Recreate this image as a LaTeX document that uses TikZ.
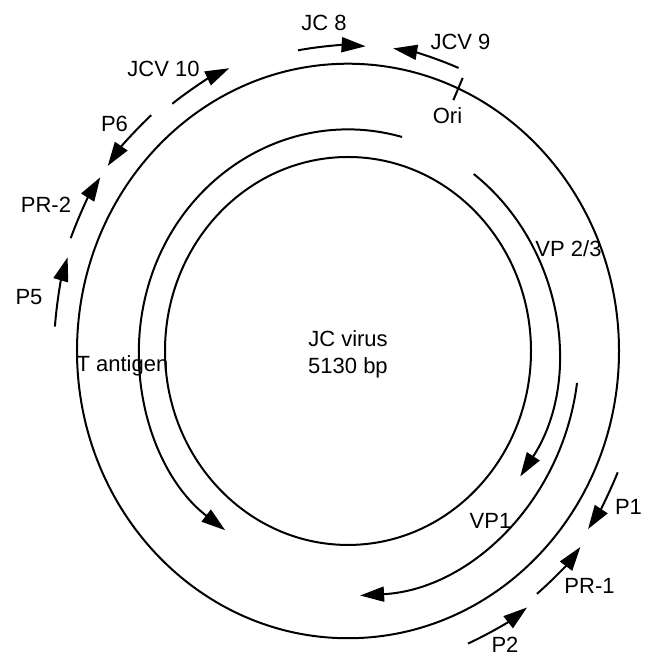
\documentclass[tikz,border=0pt]{standalone}
\usepackage{fontspec}
\setmainfont{Liberation Sans}
\usepackage{tikz}
\usetikzlibrary{
  arrows.meta,positioning,calc
}

\begin{document}
\begin{tikzpicture}[x=0.5pt,y=0.53pt,
    ring/.style={line width=1pt},
    gene/.style={line width=1pt,-{Triangle[length=12pt,width=7.5pt]}},
    lbl/.style={anchor=base,inner sep=0pt,font=\fontsize{11}{13.5}\selectfont}]
    \useasboundingbox (-348,-288.7) rectangle (300,331.1);
    % genome rings
    \draw[ring] (0,0) circle[radius=271];
    \draw[ring] (0,0) circle[radius=183];
    \draw[ring] ($(0,0) + (66:259)$) -- ($(0,0) + (66:282)$);
    \node[lbl] (ori) at (99.5,214.2) {Ori};
    \node[lbl] (name) at (0,3.8) {JC virus};
    \node[lbl] (size) at (0,-21.7) {5130 bp};
    % early and late genes
    \draw[gene] (75:209) arc[start angle=75,end angle=234,radius=209];
    \node[lbl] (tag) at (-225.5,-19.8) {T antigen};
    \draw[gene] (53:209) arc[start angle=53,end angle=-34.5,radius=209];
    \node[lbl] (vp23) at (220.5,88.7) {VP 2/3};
    \draw[gene] (-7.5:231) arc[start angle=-7.5,end angle=-87,radius=231];
    \node[lbl] (vp1) at (142.5,-167.9) {VP1};
    % primers
    \draw[gene] (100:288) arc[start angle=100,end angle=86.5,radius=288];
    \node[lbl] (jc8) at (-24,302.8) {JC 8};
    \draw[gene] (67.5:289) arc[start angle=67.5,end angle=81,radius=289];
    \node[lbl] (jcv9) at (112.5,284) {JCV 9};
    \draw[gene] (127:292) arc[start angle=127,end angle=114,radius=292];
    \node[lbl] (jcv10) at (-184.5,259.4) {JCV 10};
    \draw[gene] (131.5:297) arc[start angle=131.5,end angle=144,radius=297];
    \node[lbl] (p6) at (-233.5,206.6) {P6};
    \draw[gene] (159:297) arc[start angle=159,end angle=146.5,radius=297];
    \node[lbl] (pr2) at (-302,130.2) {PR-2};
    \draw[gene] (175.5:294) arc[start angle=175.5,end angle=162.5,radius=294];
    \node[lbl] (p5) at (-319,43.4) {P5};
    \draw[gene] (-23:293) arc[start angle=-23,end angle=-35,radius=293];
    \node[lbl] (p1) at (280.5,-154.7) {P1};
    \draw[gene] (-50.5:297) arc[start angle=-50.5,end angle=-38.5,radius=297];
    \node[lbl] (pr1) at (241.5,-229.2) {PR-1};
    \draw[gene] (-66.5:301) arc[start angle=-66.5,end angle=-53.5,radius=301];
    \node[lbl] (p2) at (157,-284.5) {P2};
  \end{tikzpicture}
\end{document}
